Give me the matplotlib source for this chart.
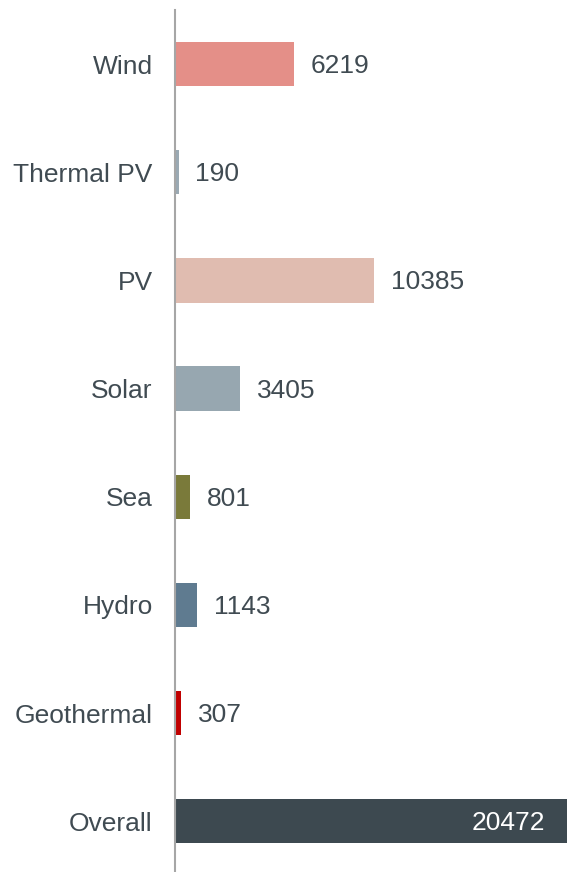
import matplotlib.pyplot as plt

categories = ["Wind", "Thermal PV", "PV", "Solar", "Sea", "Hydro", "Geothermal", "Overall"]
values = [6219, 190, 10385, 3405, 801, 1143, 307, 20472]
colors = ["#E48F88", "#9AA9B3", "#E0BCB0", "#97A7B0", "#7A7A3A", "#5F7B90", "#C00000", "#3D4950"]

text_color = "#404B52"
plt.rcParams['font.family'] = ['Liberation Sans', 'DejaVu Sans']

fig = plt.figure(figsize=(5.67, 8.72), dpi=100)
ax = fig.add_axes([175 / 567, 0.0, 1 - 175 / 567, 1 - 10 / 872])

pos = list(range(len(categories)))
ax.barh(pos, values, height=0.41, color=colors, zorder=2)

ax.set_xlim(0, max(values))
ax.set_ylim(7.47, -0.5)

# value labels: white inside the total bar, grey after the others
for i, v in enumerate(values):
    if categories[i] == "Overall":
        ax.annotate(str(v), xy=(v, i), xytext=(-16, -1.5), textcoords="offset points",
                    ha="right", va="center", fontsize=19, color="white")
    else:
        ax.annotate(str(v), xy=(v, i), xytext=(12, -1.5), textcoords="offset points",
                    ha="left", va="center", fontsize=19, color=text_color)

ax.set_yticks(pos)
ax.set_yticklabels(categories, fontsize=19, color=text_color)
ax.tick_params(axis="y", length=0, pad=16)
ax.set_xticks([])

for s in ["top", "right", "bottom"]:
    ax.spines[s].set_visible(False)
ax.spines["left"].set_color("#A6A6A6")
ax.spines["left"].set_linewidth(1.5)

fig.savefig("out.png", dpi=100)
